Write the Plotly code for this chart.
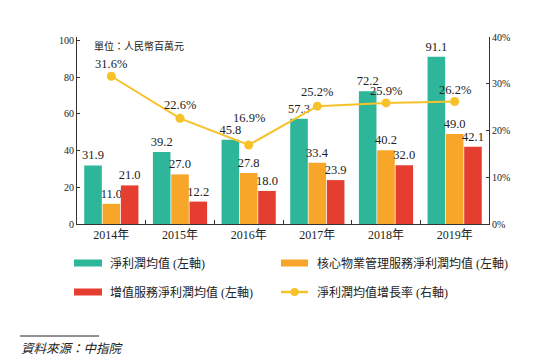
import plotly.graph_objects as go

years = ["2014年", "2015年", "2016年", "2017年", "2018年", "2019年"]
net_profit = [31.9, 39.2, 45.8, 57.3, 72.2, 91.1]
core_profit = [11.0, 27.0, 27.8, 33.4, 40.2, 49.0]
vas_profit = [21.0, 12.2, 18.0, 23.9, 32.0, 42.1]
growth = [31.6, 22.6, 16.9, 25.2, 25.9, 26.2]

names = ["淨利潤均值 (左軸)", "核心物業管理服務淨利潤均值 (左軸)",
         "增值服務淨利潤均值 (左軸)", "淨利潤均值增長率 (右軸)"]

# style: vertical offsets (px) of growth labels above their markers
growth_label_shift = [12, 13, 27, 14, 12, 12]

GREEN = "#2EB69A"
ORANGE = "#F7A629"
RED = "#E63D31"
GOLD = "#F7C12A"

SERIF = '"Liberation Serif", "Times New Roman", "DejaVu Serif", serif'
CJK = '"Noto Sans CJK TC", "Noto Sans CJK SC", sans-serif'
MIXED = '"Liberation Serif", "Noto Sans CJK TC", serif'

OFF = 8  # page body margin
W, H = 544, 360
L, T = 77 - OFF, 37 - OFF
R = W - (489 - OFF)
B = H - (224 - OFF)
pw, ph = W - L - R, H - T - B


def px(x):
    return (x - OFF - L) / pw


def py(y):
    return (H - B - (y - OFF)) / ph


fig = go.Figure()
for vals, col, nm in [(net_profit, GREEN, names[0]), (core_profit, ORANGE, names[1]),
                      (vas_profit, RED, names[2])]:
    fig.add_trace(go.Bar(
        x=years, y=vals, name=nm, marker=dict(color=col, line=dict(width=0)),
        text=[f"{v:.1f}" for v in vals], textposition="outside",
        constraintext="none",
        textfont=dict(family=SERIF, size=12.5, color="#222"),
        cliponaxis=False, showlegend=False,
    ))

fig.add_trace(go.Scatter(
    x=years, y=growth, name=names[3], yaxis="y2", mode="lines+markers",
    line=dict(color=GOLD, width=2), marker=dict(color=GOLD, size=9),
    cliponaxis=False, showlegend=False,
))

for yr, g, sh in zip(years, growth, growth_label_shift):
    fig.add_annotation(x=yr, y=g, xref="x", yref="y2", text=f"{g:.1f}%",
                       showarrow=False, yshift=sh, xanchor="center", yanchor="middle",
                       font=dict(family=SERIF, size=12.5, color="#222"))

fig.update_layout(
    width=W, height=H, margin=dict(l=L, r=R, t=T, b=B, pad=0),
    paper_bgcolor="white", plot_bgcolor="white",
    barmode="group", bargap=0.2, bargroupgap=0.04,
    showlegend=False,
    font=dict(family=SERIF, color="#222"),
    xaxis=dict(
        type="category", showline=True, linecolor="#333", linewidth=1,
        ticks="inside", tickson="boundaries", ticklen=4, tickcolor="#333",
        tickfont=dict(family=MIXED, size=12, color="#222"),
        showgrid=False, zeroline=False,
    ),
    yaxis=dict(
        range=[0, 101.8], tickvals=[0, 20, 40, 60, 80, 100],
        showline=True, linecolor="#333", linewidth=1,
        ticks="inside", ticklen=3, tickcolor="#333",
        tickfont=dict(family=SERIF, size=10, color="#222"),
        showgrid=False, zeroline=False,
    ),
    yaxis2=dict(
        overlaying="y", side="right", range=[0, 40],
        tickvals=[0, 10, 20, 30, 40], ticktext=["0%", "10%", "20%", "30%", "40%"],
        showline=True, linecolor="#333", linewidth=1,
        ticks="inside", ticklen=3, tickcolor="#333",
        tickfont=dict(family=SERIF, size=10, color="#222"),
        showgrid=False, zeroline=False,
    ),
)

# unit note
fig.add_annotation(xref="paper", yref="paper", x=px(92), y=py(46), xanchor="left",
                   yanchor="middle", text="單位：人民幣百萬元", showarrow=False,
                   font=dict(family=CJK, size=10, color="#222"))

# custom legend
shapes = []
legend_rows = [(263, 74, 102, 108, GREEN, names[0], "bar"),
               (263, 281, 308, 315, ORANGE, names[1], "bar"),
               (292, 74, 102, 108, RED, names[2], "bar"),
               (292, 281, 308, 315, GOLD, names[3], "line")]
for yy, x0, x1, tx, col, nm, kind in legend_rows:
    if kind == "bar":
        shapes.append(dict(type="rect", xref="paper", yref="paper",
                           x0=px(x0), x1=px(x1), y0=py(yy + 3.5), y1=py(yy - 3.5),
                           fillcolor=col, line=dict(width=0)))
    else:
        shapes.append(dict(type="line", xref="paper", yref="paper",
                           x0=px(x0), x1=px(x1), y0=py(yy), y1=py(yy),
                           line=dict(color=col, width=2.5)))
        shapes.append(dict(type="circle", xref="paper", yref="paper",
                           x0=px((x0 + x1) / 2 - 4), x1=px((x0 + x1) / 2 + 4),
                           y0=py(yy + 4), y1=py(yy - 4),
                           fillcolor=col, line=dict(width=0)))
    fig.add_annotation(xref="paper", yref="paper", x=px(tx), y=py(yy),
                       xanchor="left", yanchor="middle", text=nm, showarrow=False,
                       font=dict(family=MIXED, size=12, color="#222"))

# source line + note
shapes.append(dict(type="line", xref="paper", yref="paper",
                   x0=px(20), x1=px(99), y0=py(336), y1=py(336),
                   line=dict(color="#222", width=1)))
fig.add_annotation(xref="paper", yref="paper", x=px(19), y=py(347),
                   xanchor="left", yanchor="middle",
                   text="<i>資料來源：中指院</i>", showarrow=False,
                   font=dict(family=CJK, size=12.5, color="#222"))
fig.update_layout(shapes=shapes)

fig.write_html("out.html")
